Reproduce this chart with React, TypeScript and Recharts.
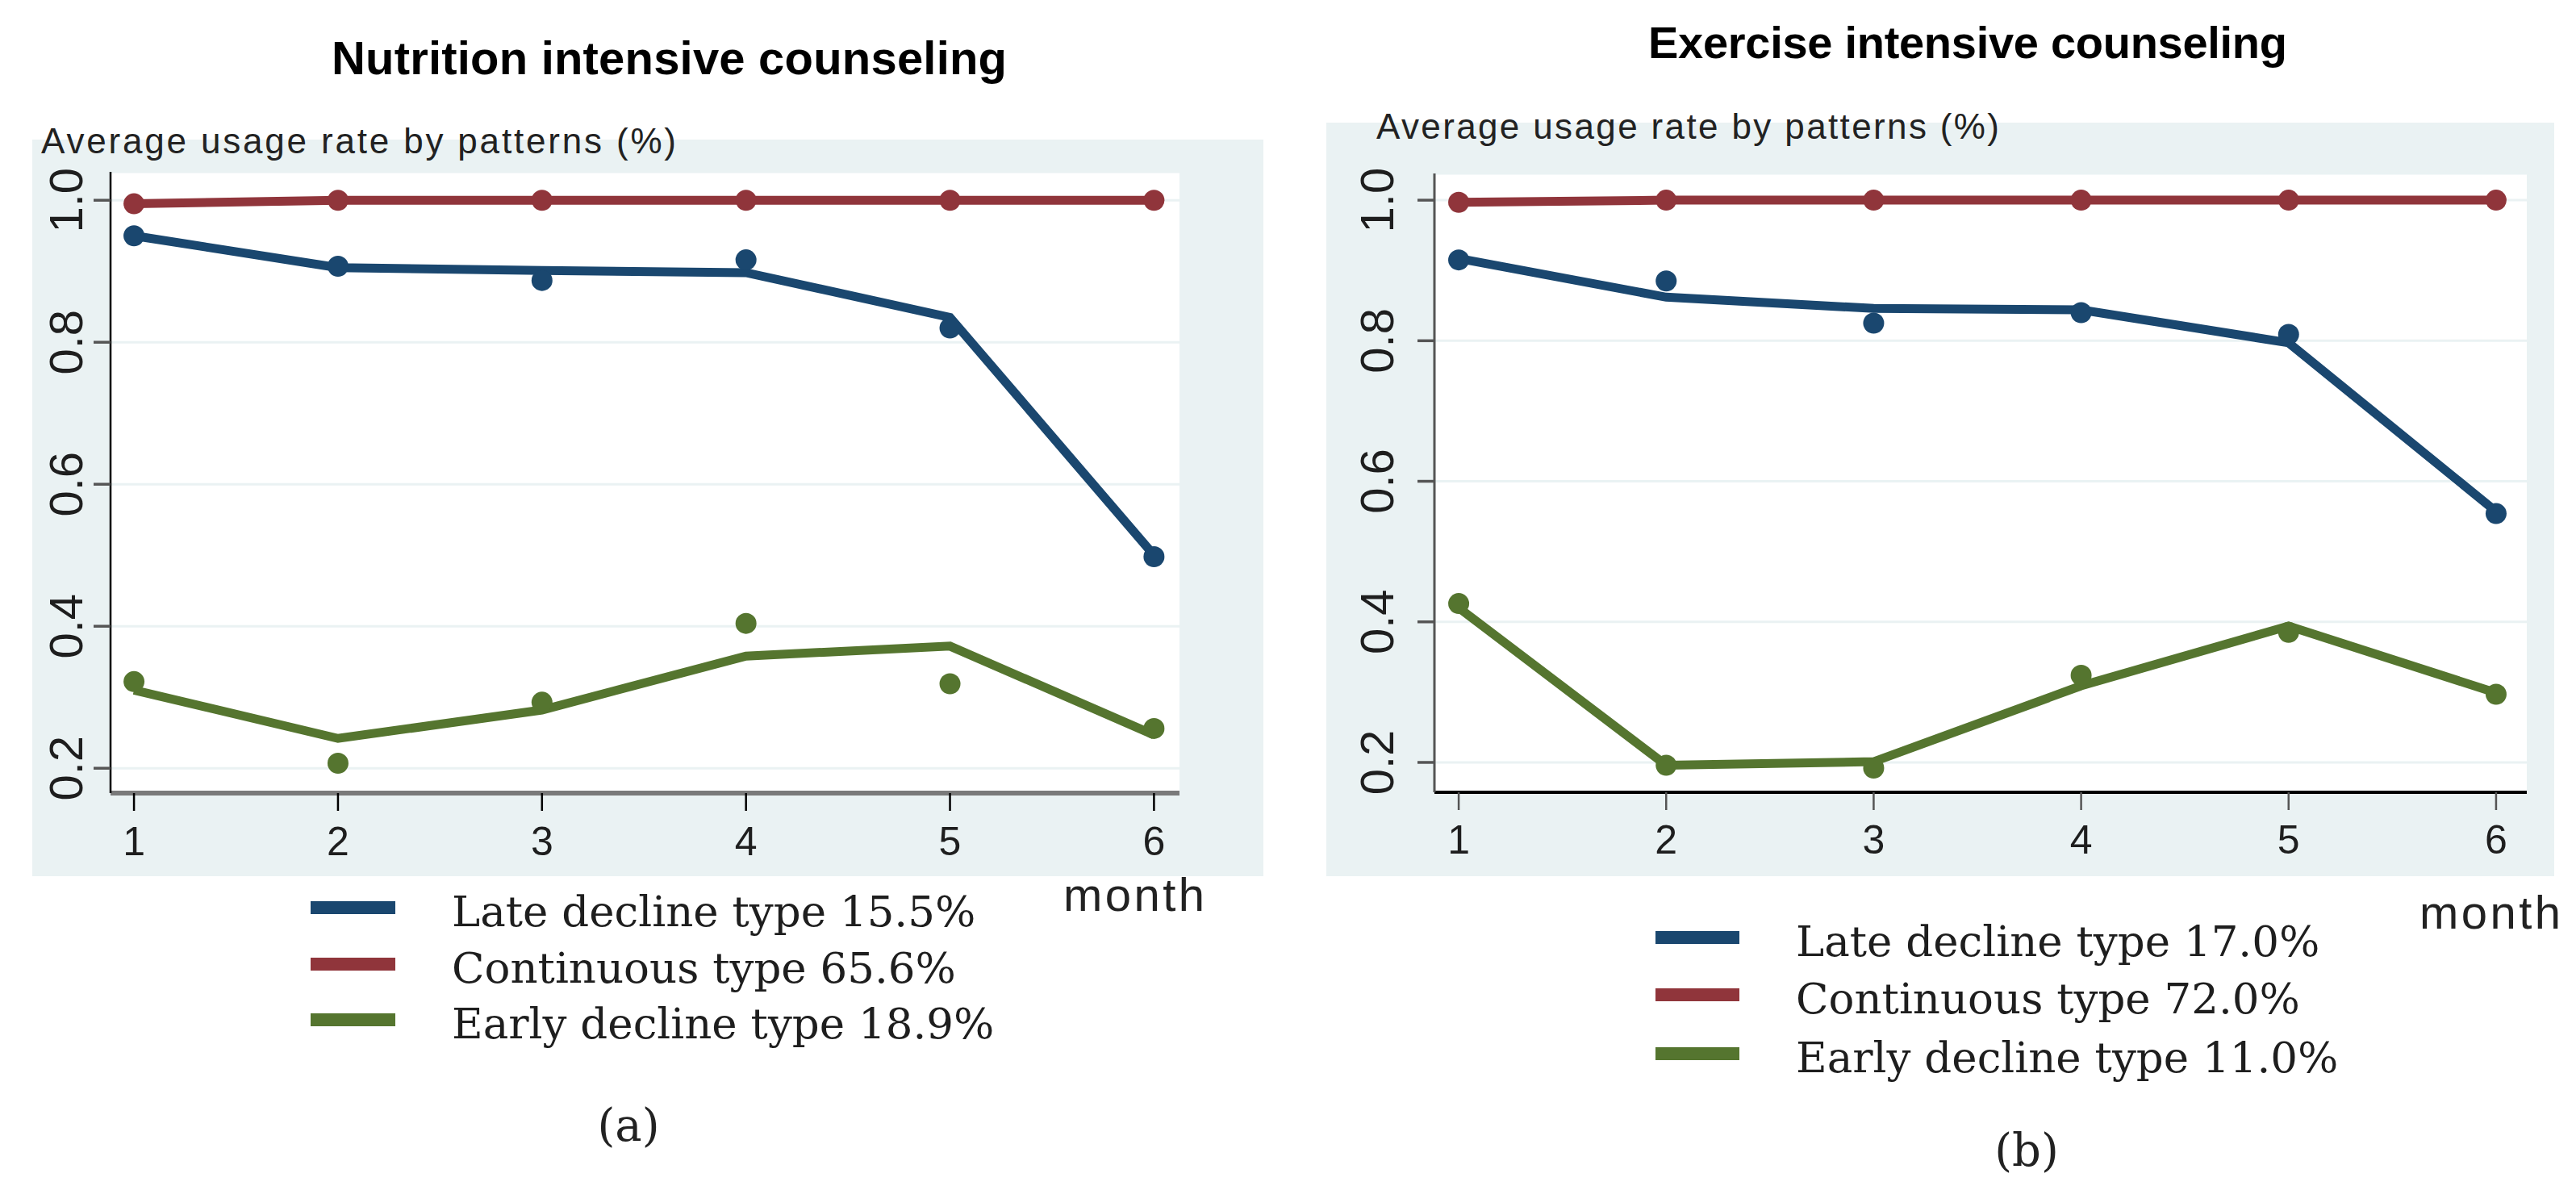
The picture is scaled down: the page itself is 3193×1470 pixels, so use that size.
import React from 'react';
import { ComposedChart, Line, XAxis, YAxis, CartesianGrid, Legend } from 'recharts';

// ---------- data ----------
const months = [1, 2, 3, 4, 5, 6];
const xTicks = [1, 2, 3, 4, 5, 6];
const yTicks = [0.2, 0.4, 0.6, 0.8, 1.0];
const yTickLabels = ['0.2', '0.4', '0.6', '0.8', '1.0'];

// (a) Nutrition intensive counseling
const nutritionLateFit = [0.95, 0.905, 0.901, 0.898, 0.835, 0.5];
const nutritionLateObs = [0.95, 0.907, 0.887, 0.916, 0.82, 0.498];
const nutritionContFit = [0.995, 1.0, 1.0, 1.0, 1.0, 1.0];
const nutritionContObs = [0.995, 1.0, 1.0, 1.0, 1.0, 1.0];
const nutritionEarlyFit = [0.31, 0.242, 0.282, 0.358, 0.372, 0.247];
const nutritionEarlyObs = [0.322, 0.207, 0.293, 0.404, 0.319, 0.256];
const nutritionLabels = ['Late decline type 15.5%', 'Continuous type 65.6%', 'Early decline type 18.9%'];

// (b) Exercise intensive counseling
const exerciseLateFit = [0.917, 0.862, 0.846, 0.844, 0.797, 0.557];
const exerciseLateObs = [0.915, 0.885, 0.825, 0.84, 0.809, 0.554];
const exerciseContFit = [0.997, 1.0, 1.0, 1.0, 1.0, 1.0];
const exerciseContObs = [0.997, 1.0, 1.0, 1.0, 1.0, 1.0];
const exerciseEarlyFit = [0.42, 0.196, 0.201, 0.309, 0.394, 0.299];
const exerciseEarlyObs = [0.426, 0.196, 0.192, 0.324, 0.385, 0.297];
const exerciseLabels = ['Late decline type 17.0%', 'Continuous type 72.0%', 'Early decline type 11.0%'];

const titles = ['Nutrition intensive counseling', 'Exercise intensive counseling'];
const yAxisTitle = 'Average usage rate by patterns (%)';
const xAxisTitle = 'month';
const panelTags = ['(a)', '(b)'];

// ---------- style ----------
const BLUE = '#1A476F';
const RED = '#90353B';
const GREEN = '#55752F';
const PANEL = '#EAF2F3';
const SANS = '"Liberation Sans", Arial, sans-serif';
const SERIF = '"DejaVu Serif", serif';

const buildRows = (lf: number[], lo: number[], cf: number[], co: number[], ef: number[], eo: number[]) =>
  months.map((m, i) => ({
    month: m,
    lateFit: lf[i],
    lateObs: lo[i],
    contFit: cf[i],
    contObs: co[i],
    earlyFit: ef[i],
    earlyObs: eo[i],
  }));

const nutritionRows = buildRows(
  nutritionLateFit, nutritionLateObs, nutritionContFit, nutritionContObs, nutritionEarlyFit, nutritionEarlyObs
);
const exerciseRows = buildRows(
  exerciseLateFit, exerciseLateObs, exerciseContFit, exerciseContObs, exerciseEarlyFit, exerciseEarlyObs
);

type Geo = {
  left: number; top: number; width: number; height: number;
  plotLeft: number; plotTop: number; plotRight: number; plotBottom: number;
  xDomain: [number, number]; yDomain: [number, number];
  yLabelOff: number; xLabelOff: number;
  yAxisColor: string; yAxisW: number; yTickColor: string;
  xAxisColor: string; xAxisW: number; xTickColor: string;
  legendBox: { left: number; top: number; width: number; height: number };
  swatch: [number, number]; textX: number; baselines: number[];
  labels: string[];
};

const makeYTick = (tickSize: number, off: number) => (props: any) => {
  const { x, y, payload } = props;
  const axisX = x + tickSize;
  const bx = axisX - off;
  const idx = yTicks.findIndex((t) => Math.abs(t - payload.value) < 1e-6);
  return (
    <text
      transform={`translate(${bx},${y}) rotate(-90)`}
      textAnchor="middle"
      fontFamily={SANS}
      fontSize={58}
      fill="#1e1e1e"
    >
      {idx >= 0 ? yTickLabels[idx] : payload.value}
    </text>
  );
};

const makeXTick = (off: number) => (props: any) => {
  const { x, y, payload } = props;
  return (
    <text x={x} y={y + off} textAnchor="middle" fontFamily={SANS} fontSize={50} fill="#1e1e1e">
      {payload.value}
    </text>
  );
};

const makeLegend = (g: Geo) => (props: any) => {
  const all = (props.payload || []).filter((p: any) => p.type !== 'none');
  const ordered = g.labels
    .map((lab) => all.find((p: any) => p.value === lab))
    .filter((p: any) => !!p);
  const b = g.legendBox;
  return (
    <svg width={b.width} height={b.height} style={{ display: 'block', overflow: 'visible' }}>
      {ordered.map((p: any, i: number) => {
        const base = g.baselines[i] - b.top;
        const cy = base - 23;
        return (
          <g key={i}>
            <line
              x1={g.swatch[0] - b.left}
              x2={g.swatch[1] - b.left}
              y1={cy}
              y2={cy}
              stroke={p.color}
              strokeWidth={16}
            />
            <text x={g.textX - b.left} y={base} fontFamily={SERIF} fontSize={53} fill="#1e1e1e">
              {p.value}
            </text>
          </g>
        );
      })}
    </svg>
  );
};

const Panel = ({ rows, g }: { rows: any[]; g: Geo }) => {
  const yTickSize = 21;
  const xTickSize = 22;
  const yAxisWidth = g.plotLeft - g.left;
  const marginTop = g.plotTop - g.top;
  const marginRight = g.left + g.width - g.plotRight;
  const xAxisHeight = g.top + g.height - g.plotBottom;
  return (
    <div style={{ position: 'absolute', left: g.left, top: g.top, width: g.width, height: g.height, background: PANEL }}>
      <ComposedChart
        width={g.width}
        height={g.height}
        data={rows}
        margin={{ top: marginTop, right: marginRight, bottom: 0, left: 0 }}
      >
        <CartesianGrid vertical={false} stroke={PANEL} strokeWidth={3} fill="#ffffff" />
        <XAxis
          dataKey="month"
          type="number"
          domain={g.xDomain}
          allowDataOverflow
          ticks={xTicks}
          interval={0}
          height={xAxisHeight}
          tickSize={xTickSize}
          tickMargin={0}
          axisLine={{ stroke: g.xAxisColor, strokeWidth: g.xAxisW }}
          tickLine={{ stroke: g.xTickColor, strokeWidth: 2.5 }}
          tick={makeXTick(g.xLabelOff - xTickSize)}
        />
        <YAxis
          type="number"
          domain={g.yDomain}
          allowDataOverflow
          ticks={yTicks}
          interval={0}
          width={yAxisWidth}
          tickSize={yTickSize}
          tickMargin={0}
          axisLine={{ stroke: g.yAxisColor, strokeWidth: g.yAxisW }}
          tickLine={{ stroke: g.yTickColor, strokeWidth: 3.5 }}
          tick={makeYTick(yTickSize, g.yLabelOff)}
        />
        <Line dataKey="lateFit" name={g.labels[0]} stroke={BLUE} strokeWidth={11} dot={false} activeDot={false} isAnimationActive={false} />
        <Line dataKey="contFit" name={g.labels[1]} stroke={RED} strokeWidth={11} dot={false} activeDot={false} isAnimationActive={false} />
        <Line dataKey="earlyFit" name={g.labels[2]} stroke={GREEN} strokeWidth={11} dot={false} activeDot={false} isAnimationActive={false} />
        <Line dataKey="lateObs" legendType="none" stroke="none" dot={{ r: 13, fill: BLUE, stroke: 'none' }} activeDot={false} isAnimationActive={false} />
        <Line dataKey="contObs" legendType="none" stroke="none" dot={{ r: 13, fill: RED, stroke: 'none' }} activeDot={false} isAnimationActive={false} />
        <Line dataKey="earlyObs" legendType="none" stroke="none" dot={{ r: 13, fill: GREEN, stroke: 'none' }} activeDot={false} isAnimationActive={false} />
        <Legend
          layout="vertical"
          align="center"
          verticalAlign="middle"
          itemSorter={null as any}
          width={g.legendBox.width}
          height={g.legendBox.height}
          wrapperStyle={{
            left: g.legendBox.left - g.left,
            top: g.legendBox.top - g.top,
            width: g.legendBox.width,
            height: g.legendBox.height,
          }}
          content={makeLegend(g)}
        />
      </ComposedChart>
    </div>
  );
};

const geoA: Geo = {
  left: 40, top: 173, width: 1526, height: 913,
  plotLeft: 137, plotTop: 213, plotRight: 1462, plotBottom: 983,
  xDomain: [0.885, 6.125], yDomain: [0.165, 1.04],
  yLabelOff: 35, xLabelOff: 77,
  yAxisColor: '#000000', yAxisW: 2.5, yTickColor: '#555555',
  xAxisColor: '#7a7a7a', xAxisW: 6, xTickColor: '#000000',
  legendBox: { left: 370, top: 1085, width: 900, height: 230 },
  swatch: [385, 490], textX: 560, baselines: [1148, 1218, 1287],
  labels: nutritionLabels,
};

const geoB: Geo = {
  left: 1644, top: 152, width: 1522, height: 934,
  plotLeft: 1778, plotTop: 215, plotRight: 3132, plotBottom: 982,
  xDomain: [0.883, 6.148], yDomain: [0.1575, 1.038],
  yLabelOff: 51, xLabelOff: 76,
  yAxisColor: '#555555', yAxisW: 3, yTickColor: '#555555',
  xAxisColor: '#000000', xAxisW: 4, xTickColor: '#555555',
  legendBox: { left: 2030, top: 1120, width: 900, height: 230 },
  swatch: [2052, 2156], textX: 2226, baselines: [1185, 1256, 1329],
  labels: exerciseLabels,
};

export default function App() {
  return (
    <div style={{ position: 'absolute', left: 0, top: 0, width: 3193, height: 1470, background: '#ffffff', overflow: 'hidden' }}>
      <Panel rows={nutritionRows} g={geoA} />
      <Panel rows={exerciseRows} g={geoB} />
      <svg
        width={3193}
        height={1470}
        style={{ position: 'absolute', left: 0, top: 0, pointerEvents: 'none' }}
      >
        <text x={411} y={92} fontFamily={SANS} fontWeight="bold" fontSize={58} fill="#000" textLength={837} lengthAdjust="spacing">
          {titles[0]}
        </text>
        <text x={2043} y={72} fontFamily={SANS} fontWeight="bold" fontSize={56} fill="#000" textLength={792} lengthAdjust="spacing">
          {titles[1]}
        </text>
        <text x={51} y={190} fontFamily={SANS} fontSize={44} fill="#222" textLength={787} lengthAdjust="spacing">
          {yAxisTitle}
        </text>
        <text x={1706} y={172} fontFamily={SANS} fontSize={44} fill="#222" textLength={772} lengthAdjust="spacing">
          {yAxisTitle}
        </text>
        <text x={1318} y={1129} fontFamily={SANS} fontSize={58} fill="#222" textLength={175} lengthAdjust="spacing">
          {xAxisTitle}
        </text>
        <text x={2999} y={1151} fontFamily={SANS} fontSize={58} fill="#222" textLength={175} lengthAdjust="spacing">
          {xAxisTitle}
        </text>
        <text x={779} y={1414} textAnchor="middle" fontFamily={SERIF} fontSize={56} fill="#222">
          {panelTags[0]}
        </text>
        <text x={2512} y={1445} textAnchor="middle" fontFamily={SERIF} fontSize={56} fill="#222">
          {panelTags[1]}
        </text>
      </svg>
    </div>
  );
}
